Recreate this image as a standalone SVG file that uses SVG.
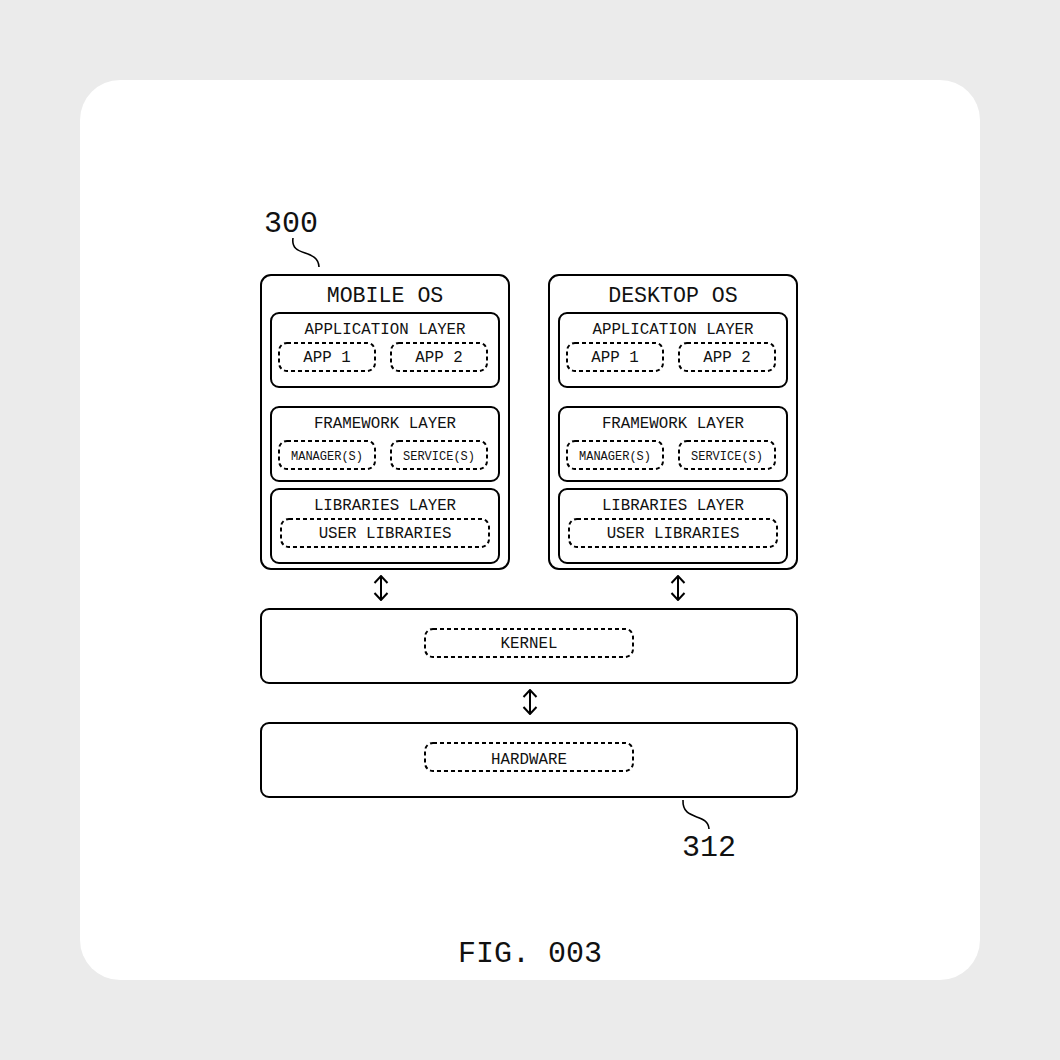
<svg xmlns="http://www.w3.org/2000/svg" width="1060" height="1060" viewBox="0 0 1060 1060">
<style>
.box{fill:#fff;stroke:#000;stroke-width:2}
.dash{fill:none;stroke:#000;stroke-width:2;stroke-dasharray:4 3}
.t{font-family:"Liberation Mono","DejaVu Sans Mono",monospace;fill:#111;text-anchor:middle}
.title{font-size:21.6px}
.layer{font-size:15.8px}
.item{font-size:15.8px}
.small{font-size:12px}
.ref{font-size:30px}
.conn{fill:none;stroke:#000;stroke-width:2}
.lead{fill:none;stroke:#000;stroke-width:1.6}
</style>
<defs>
<marker id="ah" viewBox="0 0 10 16" refX="9" refY="8" markerWidth="10" markerHeight="16" markerUnits="userSpaceOnUse" orient="auto-start-reverse">
<path d="M2,1.5 L9,8 L2,14.5" fill="none" stroke="#000" stroke-width="2"/>
</marker>
</defs>
<rect x="0" y="0" width="1060" height="1060" fill="#ebebeb"/>
<rect x="80" y="80" width="900" height="900" rx="40" fill="#fff"/>

<g id="mobile-os">
<rect class="box" x="261" y="275" width="248" height="294" rx="10"/>
<text class="t title" x="385" y="302">MOBILE OS</text>
<g id="mobile-app-layer">
<rect class="box" x="271" y="313" width="228" height="74" rx="8"/>
<text class="t layer" x="385" y="334">APPLICATION LAYER</text>
<rect class="dash" x="279" y="343" width="96" height="28" rx="8"/>
<text class="t item" x="327" y="362">APP 1</text>
<rect class="dash" x="391" y="343" width="96" height="28" rx="8"/>
<text class="t item" x="439" y="362">APP 2</text>
</g>
<g id="mobile-framework-layer">
<rect class="box" x="271" y="407" width="228" height="74" rx="8"/>
<text class="t layer" x="385" y="428">FRAMEWORK LAYER</text>
<rect class="dash" x="279" y="441" width="96" height="28" rx="8"/>
<text class="t small" x="327" y="460">MANAGER(S)</text>
<rect class="dash" x="391" y="441" width="96" height="28" rx="8"/>
<text class="t small" x="439" y="460">SERVICE(S)</text>
</g>
<g id="mobile-libraries-layer">
<rect class="box" x="271" y="489" width="228" height="74" rx="8"/>
<text class="t layer" x="385" y="510">LIBRARIES LAYER</text>
<rect class="dash" x="281" y="519" width="208" height="28" rx="8"/>
<text class="t item" x="385" y="538">USER LIBRARIES</text>
</g>
</g>

<g id="desktop-os">
<rect class="box" x="549" y="275" width="248" height="294" rx="10"/>
<text class="t title" x="673" y="302">DESKTOP OS</text>
<g id="desktop-app-layer">
<rect class="box" x="559" y="313" width="228" height="74" rx="8"/>
<text class="t layer" x="673" y="334">APPLICATION LAYER</text>
<rect class="dash" x="567" y="343" width="96" height="28" rx="8"/>
<text class="t item" x="615" y="362">APP 1</text>
<rect class="dash" x="679" y="343" width="96" height="28" rx="8"/>
<text class="t item" x="727" y="362">APP 2</text>
</g>
<g id="desktop-framework-layer">
<rect class="box" x="559" y="407" width="228" height="74" rx="8"/>
<text class="t layer" x="673" y="428">FRAMEWORK LAYER</text>
<rect class="dash" x="567" y="441" width="96" height="28" rx="8"/>
<text class="t small" x="615" y="460">MANAGER(S)</text>
<rect class="dash" x="679" y="441" width="96" height="28" rx="8"/>
<text class="t small" x="727" y="460">SERVICE(S)</text>
</g>
<g id="desktop-libraries-layer">
<rect class="box" x="559" y="489" width="228" height="74" rx="8"/>
<text class="t layer" x="673" y="510">LIBRARIES LAYER</text>
<rect class="dash" x="569" y="519" width="208" height="28" rx="8"/>
<text class="t item" x="673" y="538">USER LIBRARIES</text>
</g>
</g>

<g id="kernel">
<rect class="box" x="261" y="609" width="536" height="74" rx="8"/>
<rect class="dash" x="425" y="629" width="208" height="28" rx="8"/>
<text class="t item" x="529" y="648">KERNEL</text>
</g>

<g id="hardware">
<rect class="box" x="261" y="723" width="536" height="74" rx="8"/>
<rect class="dash" x="425" y="743" width="208" height="28" rx="8"/>
<text class="t item" x="529" y="764">HARDWARE</text>
</g>

<g id="connectors">
<line class="conn" x1="381" y1="576" x2="381" y2="600" marker-start="url(#ah)" marker-end="url(#ah)"/>
<line class="conn" x1="678" y1="576" x2="678" y2="600" marker-start="url(#ah)" marker-end="url(#ah)"/>
<line class="conn" x1="530" y1="690" x2="530" y2="714" marker-start="url(#ah)" marker-end="url(#ah)"/>
</g>

<g id="ref-300">
<text class="t ref" x="291" y="232">300</text>
<path class="lead" d="M293,238 C290,258 318,248 319,267"/>
</g>
<g id="ref-312">
<path class="lead" d="M683,800 C682,822 708,812 709,829"/>
<text class="t ref" x="709" y="856">312</text>
</g>
<g id="caption">
<text class="t ref" x="530" y="962">FIG. 003</text>
</g>
</svg>
